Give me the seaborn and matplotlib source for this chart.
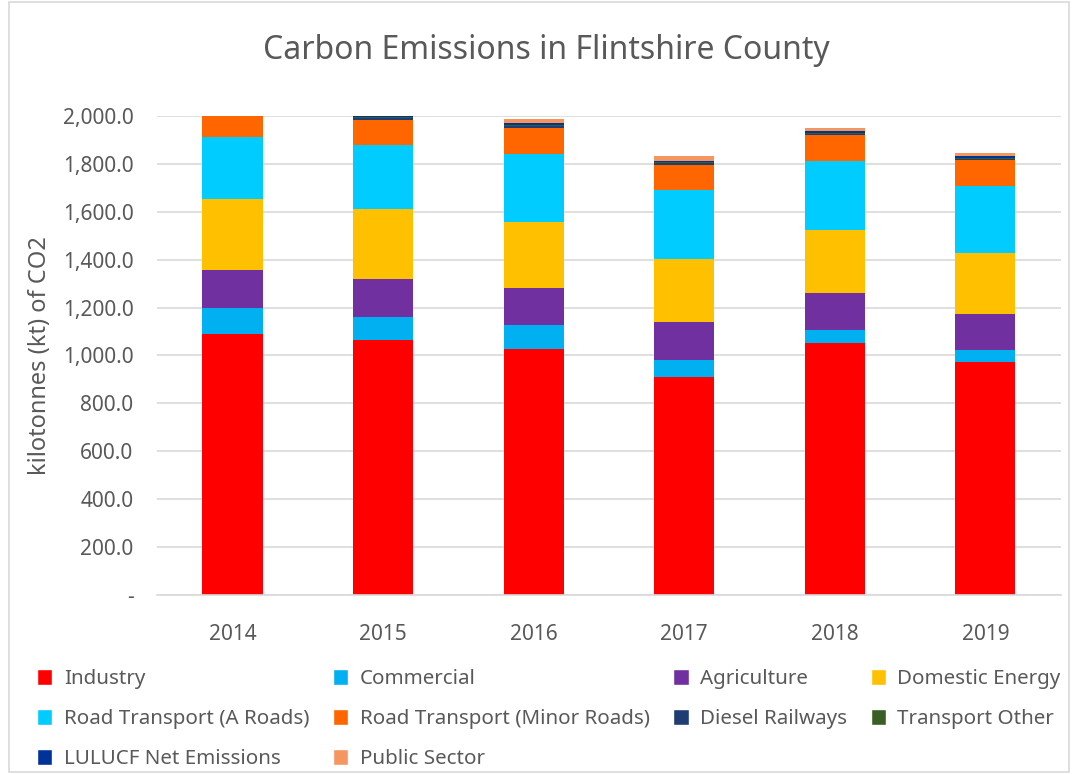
import numpy as np
import pandas as pd
import matplotlib
matplotlib.use("Agg")
import matplotlib.pyplot as plt
import seaborn as sns
from matplotlib.patches import Patch, Rectangle
from matplotlib.ticker import FuncFormatter

# data (kt CO2)
years = ["2014", "2015", "2016", "2017", "2018", "2019"]
industry = [1090, 1065, 1027, 910, 1052, 973]
commercial = [108, 95, 100, 71, 54, 50]
agriculture = [159, 159, 155, 159, 155, 150]
domestic = [296, 293, 275, 263, 263, 255]
a_roads = [259, 267, 286, 289, 288, 281]
minor_roads = [91, 106, 107, 103, 108, 107]
diesel_rail = [0, 6, 10, 8, 6, 6]
transport_other = [0, 3, 3, 3, 4, 4]
lulucf = [0, 7, 7, 8, 8, 8]
public_sector = [0, 0, 17, 17, 12, 11]

sectors = ["Industry", "Commercial", "Agriculture", "Domestic Energy",
           "Road Transport (A Roads)", "Road Transport (Minor Roads)",
           "Diesel Railways", "Transport Other", "LULUCF Net Emissions",
           "Public Sector"]
values = [industry, commercial, agriculture, domestic, a_roads, minor_roads,
          diesel_rail, transport_other, lulucf, public_sector]
colors = ["#FF0000", "#00B0F0", "#7030A0", "#FFC000", "#00CCFF", "#FF6600",
          "#1F3D73", "#3A5F25", "#003399", "#F4965E"]

df = pd.DataFrame(dict(zip(sectors, values)), index=years)
cum = df.cumsum(axis=1)

sns.set_style("white")
plt.rcParams["font.family"] = ["Noto Sans", "DejaVu Sans"]
grey = "#595959"

fig = plt.figure(figsize=(10.73, 7.74), dpi=100)
ax = fig.add_axes([0.1465, 0.2313, 0.842, 0.6188])

# stacked bars: draw cumulative totals from the top layer down
for name, col in reversed(list(zip(sectors, colors))):
    sns.barplot(x=years, y=cum[name].values, color=col, width=0.4,
                saturation=1, linewidth=0, edgecolor="none", ax=ax, zorder=2)

ax.set_xlim(-0.5, 5.5)
ax.set_ylim(0, 2000)
ax.set_yticks(np.arange(0, 2001, 200))
ax.yaxis.set_major_formatter(FuncFormatter(lambda v, p: "-" if v == 0 else f"{v:,.1f}"))
ax.grid(axis="y", color="#D9D9D9", linewidth=1.2, zorder=0)
ax.set_axisbelow(True)
for s in ["top", "right", "left"]:
    ax.spines[s].set_visible(False)
ax.spines["bottom"].set_color("#D9D9D9")
ax.spines["bottom"].set_linewidth(1.2)
ax.tick_params(axis="both", length=0, labelsize=15, colors=grey)
ax.tick_params(axis="y", pad=17)
ax.tick_params(axis="x", pad=21)
ax.set_xlabel("")
ax.set_ylabel("kilotonnes (kt) of CO2", fontsize=17, color=grey, labelpad=8)

fig.text(0.509, 0.935, "Carbon Emissions in Flintshire County", fontsize=23,
         color=grey, ha="center", va="center")

# legend, column-major order to match the reference rows
order = [0, 4, 8, 1, 5, 9, 2, 6, 3, 7]
handles = [Patch(facecolor=colors[i], label=sectors[i]) for i in order]
fig.legend(handles=handles, loc="lower left", bbox_to_anchor=(0.021, -0.012),
           ncol=4, frameon=False, fontsize=14.8, handlelength=0.75,
           handleheight=0.85, handletextpad=0.55, columnspacing=1.15,
           labelspacing=0.95, labelcolor=grey, borderaxespad=0.3)

fig.patches.append(Rectangle((0.008, 0.002), 0.988, 0.996, transform=fig.transFigure,
                             fill=False, edgecolor="#D9D9D9", linewidth=1.2))

fig.savefig("out.png", dpi=100)
